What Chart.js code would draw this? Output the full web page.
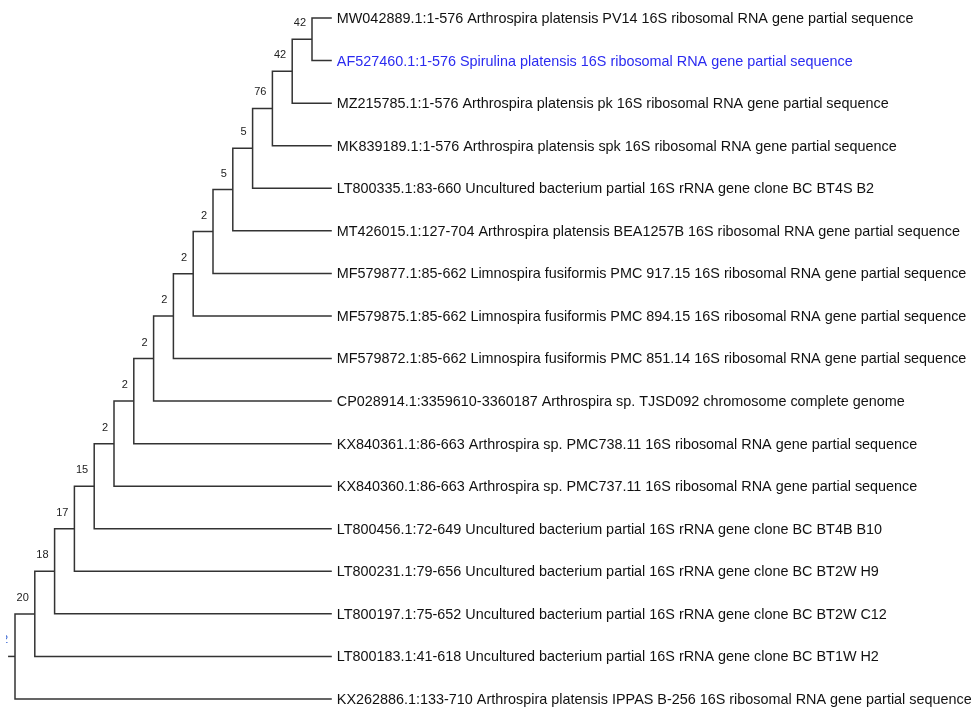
<!DOCTYPE html>
<html>
<head>
<meta charset="utf-8">
<script src="https://cdn.jsdelivr.net/npm/chart.js@4.4.1/dist/chart.umd.min.js"></script>
<style>
  html, body { margin: 0; padding: 0; background: #fff; }
  #wrap { width: 971px; height: 709px; position: relative; }
</style>
</head>
<body>
<div id="wrap"><canvas id="tree"></canvas></div>
<script>
// Leaf labels, top to bottom
const leafNames = [
  'MW042889.1:1-576 Arthrospira platensis PV14 16S ribosomal RNA gene partial sequence',
  'AF527460.1:1-576 Spirulina platensis 16S ribosomal RNA gene partial sequence',
  'MZ215785.1:1-576 Arthrospira platensis pk 16S ribosomal RNA gene partial sequence',
  'MK839189.1:1-576 Arthrospira platensis spk 16S ribosomal RNA gene partial sequence',
  'LT800335.1:83-660 Uncultured bacterium partial 16S rRNA gene clone BC BT4S B2',
  'MT426015.1:127-704 Arthrospira platensis BEA1257B 16S ribosomal RNA gene partial sequence',
  'MF579877.1:85-662 Limnospira fusiformis PMC 917.15 16S ribosomal RNA gene partial sequence',
  'MF579875.1:85-662 Limnospira fusiformis PMC 894.15 16S ribosomal RNA gene partial sequence',
  'MF579872.1:85-662 Limnospira fusiformis PMC 851.14 16S ribosomal RNA gene partial sequence',
  'CP028914.1:3359610-3360187 Arthrospira sp. TJSD092 chromosome complete genome',
  'KX840361.1:86-663 Arthrospira sp. PMC738.11 16S ribosomal RNA gene partial sequence',
  'KX840360.1:86-663 Arthrospira sp. PMC737.11 16S ribosomal RNA gene partial sequence',
  'LT800456.1:72-649 Uncultured bacterium partial 16S rRNA gene clone BC BT4B B10',
  'LT800231.1:79-656 Uncultured bacterium partial 16S rRNA gene clone BC BT2W H9',
  'LT800197.1:75-652 Uncultured bacterium partial 16S rRNA gene clone BC BT2W C12',
  'LT800183.1:41-618 Uncultured bacterium partial 16S rRNA gene clone BC BT1W H2',
  'KX262886.1:133-710 Arthrospira platensis IPPAS B-256 16S ribosomal RNA gene partial sequence'
];
const queryLeaf = 1; // highlighted sequence

// Internal nodes: children ('L' = leaf index, 'N' = node index); last one is the root
const nodeChildren = [
  ['L0', 'L1'], ['N0', 'L2'], ['N1', 'L3'], ['N2', 'L4'], ['N3', 'L5'],
  ['N4', 'L6'], ['N5', 'L7'], ['N6', 'L8'], ['N7', 'L9'], ['N8', 'L10'],
  ['N9', 'L11'], ['N10', 'L12'], ['N11', 'L13'], ['N12', 'L14'], ['N13', 'L15'],
  ['N14', 'L16']
];
const bootstrap = ['42', '42', '76', '5', '5', '2', '2', '2', '2', '2', '2', '15', '17', '18', '20', '2'];

// Compute layout in tree units (depth along x, leaf order along y)
const rootIdx = nodeChildren.length - 1;
const nodeDepth = [];
const nodeY = [];
let maxDepth = 0;
function setDepth(ref, d) {
  const t = ref[0], i = +ref.slice(1);
  if (t === 'N') {
    nodeDepth[i] = d;
    nodeChildren[i].forEach(c => setDepth(c, d + 1));
  } else {
    maxDepth = Math.max(maxDepth, d);
  }
}
setDepth('N' + rootIdx, 0);

function posOf(ref) {
  const t = ref[0], i = +ref.slice(1);
  if (t === 'L') return { x: maxDepth, y: i };
  if (nodeY[i] === undefined) {
    const ys = nodeChildren[i].map(c => posOf(c).y);
    nodeY[i] = (ys[0] + ys[1]) / 2;
  }
  return { x: nodeDepth[i], y: nodeY[i] };
}

const lineColor = '#333';
const datasets = nodeChildren.map((kids, i) => {
  const p = posOf('N' + i);
  const a = posOf(kids[0]), b = posOf(kids[1]);
  return {
    data: [{ x: a.x, y: a.y }, { x: p.x, y: a.y }, { x: p.x, y: b.y }, { x: b.x, y: b.y }],
    borderColor: lineColor, borderWidth: 1.5, pointRadius: 0, showLine: true, tension: 0
  };
});
// root stub
const rootPos = posOf('N' + rootIdx);
datasets.push({
  data: [{ x: rootPos.x - 0.35, y: rootPos.y }, { x: rootPos.x, y: rootPos.y }],
  borderColor: lineColor, borderWidth: 1.5, pointRadius: 0, showLine: true
});

const labelPlugin = {
  id: 'treeLabels',
  afterDatasetsDraw(chart) {
    const { ctx, scales: { x, y } } = chart;
    ctx.save();
    ctx.textBaseline = 'middle';
    ctx.font = '14.4px "Liberation Sans", Arial, sans-serif';
    ctx.textAlign = 'left';
    leafNames.forEach((name, i) => {
      ctx.fillStyle = i === queryLeaf ? '#2b2bf0' : '#111';
      ctx.fillText(name, x.getPixelForValue(maxDepth) + 5, y.getPixelForValue(i) + 1);
    });
    ctx.font = '11px "Liberation Sans", Arial, sans-serif';
    ctx.textAlign = 'right';
    nodeChildren.forEach((k, i) => {
      const p = posOf('N' + i);
      const px = x.getPixelForValue(p.x), py = y.getPixelForValue(p.y);
      if (i === rootIdx) {
        // root label is cut off at the left edge
        ctx.save();
        ctx.beginPath();
        ctx.rect(6, py - 30, 10, 30);
        ctx.clip();
        ctx.fillStyle = '#2b5bd0';
        ctx.fillText(bootstrap[i], px - 7, py - 16);
        ctx.restore();
        return;
      }
      ctx.fillStyle = '#222';
      ctx.fillText(bootstrap[i], px - 6, py - 16);
    });
    ctx.restore();
  }
};

new Chart(document.getElementById('tree'), {
  type: 'scatter',
  data: { datasets },
  options: {
    responsive: true,
    maintainAspectRatio: false,
    animation: false,
    layout: { padding: 0 },
    plugins: { legend: { display: false }, tooltip: { enabled: false } },
    scales: {
      x: { type: 'linear', display: false, min: -15 / 19.8, max: (971 - 15) / 19.8 },
      y: { type: 'linear', display: false, reverse: true, min: -18 / 42.56, max: 16 + 10 / 42.56 }
    }
  },
  plugins: [labelPlugin]
});
</script>
</body>
</html>
